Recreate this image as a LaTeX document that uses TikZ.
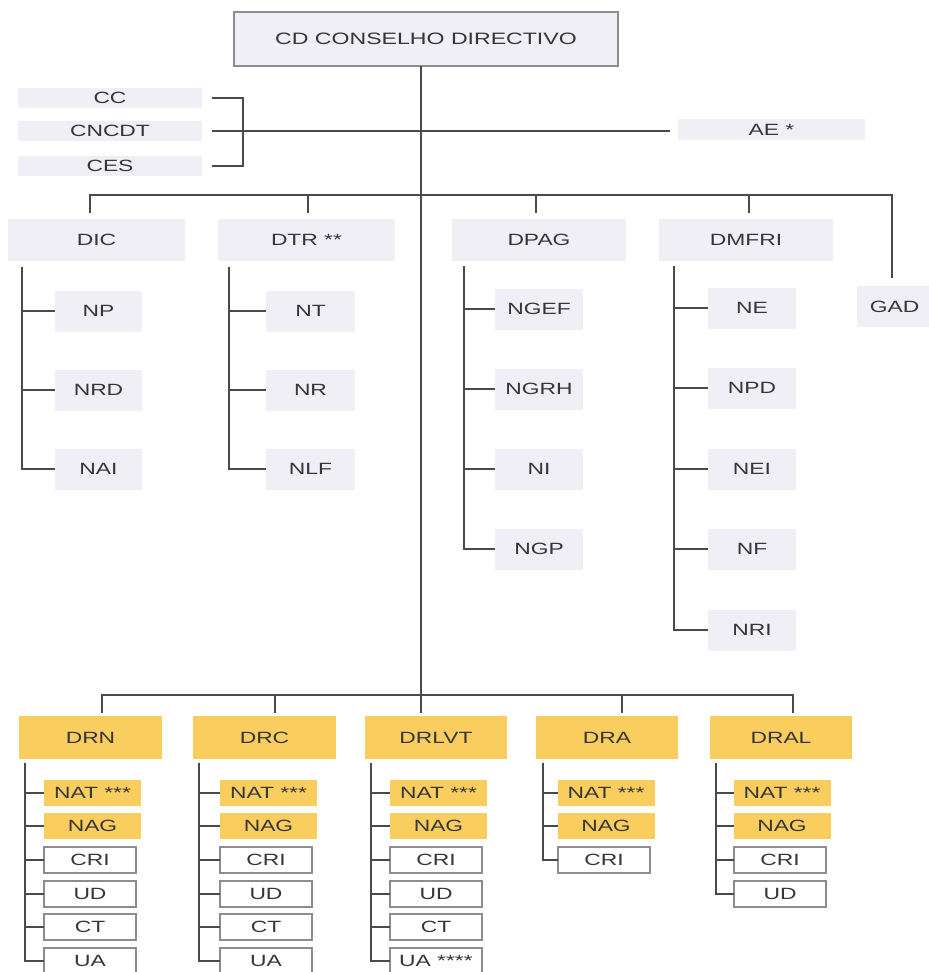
\documentclass[tikz,border=0pt]{standalone}
\usepackage{fontspec}
\setmainfont[FakeStretch=1.4]{Liberation Sans}
\definecolor{gfill}{HTML}{EFEFF5}
\definecolor{yfill}{HTML}{F9CE5F}
\definecolor{lcol}{HTML}{4A4A4A}
\definecolor{obord}{HTML}{8C8C94}
\definecolor{txt}{HTML}{363636}
\begin{document}
\begin{tikzpicture}[x=1pt,y=-1pt,
  base/.style={inner sep=0pt, outer sep=0pt, text=txt, font=\fontsize{16.3}{19}\selectfont},
  gbox/.style={base, fill=gfill, minimum height=41pt},
  cdbox/.style={base, fill=gfill, draw=obord, line width=1.2pt, font=\fontsize{16.5}{19}\selectfont},
  ybox/.style={base, fill=yfill},
  obox/.style={base, fill=white, draw=obord, line width=1.3pt, minimum width=92pt, minimum height=26pt},
  conn/.style={draw=lcol, line width=1.6pt}]
\useasboundingbox (0,0) rectangle (929,972);
\clip (0,0) rectangle (929,972);
\fill[white] (0,0) rectangle (929,972);

% top
\node[cdbox, minimum width=384pt, minimum height=54pt] (cd) at (426,39) {CD CONSELHO DIRECTIVO};
\node[gbox, minimum width=184pt, minimum height=20pt] (cc) at (110,98) {CC};
\node[gbox, minimum width=184pt, minimum height=20pt] (cncdt) at (110,131) {CNCDT};
\node[gbox, minimum width=184pt, minimum height=20pt] (ces) at (110,166) {CES};
\node[gbox, minimum width=187pt, minimum height=21pt] (ae) at (771.5,129.5) {AE *};

\coordinate (tk) at (421,695);
\draw[conn] (tk |- cd.south) -- (tk);
\draw[conn] ([xshift=10pt]cc.east) -| ([xshift=41pt]ces.east) -- ([xshift=10pt]ces.east);
\draw[conn] ([xshift=10pt]cncdt.east) -- ([xshift=-8pt]ae.west |- cncdt.east);

% directorates
\node[gbox, minimum width=177pt, minimum height=42pt] (dic) at (96.5,240) {DIC};
\node[gbox, minimum width=177pt, minimum height=42pt] (dtr) at (306.5,240) {DTR **};
\node[gbox, minimum width=174pt, minimum height=42pt] (dpag) at (539,240) {DPAG};
\node[gbox, minimum width=174pt, minimum height=42pt] (dmfri) at (746,240) {DMFRI};
\node[gbox, minimum width=75pt, minimum height=41pt] (gad) at (894.5,306.5) {GAD};

\coordinate (t1) at (90,195);
\coordinate (t2) at (308,195);
\coordinate (t3) at (536,195);
\coordinate (t4) at (749,195);
\coordinate (t5) at (892,195);
\draw[conn] ([yshift=6pt]t1 |- dic.north) -- (t1) -- (t5) -- ([yshift=8pt]t5 |- gad.north);
\draw[conn] (t2) -- ([yshift=6pt]t2 |- dtr.north);
\draw[conn] (t3) -- ([yshift=6pt]t3 |- dpag.north);
\draw[conn] (t4) -- ([yshift=6pt]t4 |- dmfri.north);

% DIC children
\node[gbox, minimum width=87pt] (np) at (98.5,311) {NP};
\node[gbox, minimum width=87pt] (nrd) at (98.5,390) {NRD};
\node[gbox, minimum width=87pt] (nai) at (98.5,469) {NAI};
\coordinate (v1) at (22,267);
\draw[conn] (v1) |- (nai.west);
\draw[conn] (v1 |- np.west) -- (np.west);
\draw[conn] (v1 |- nrd.west) -- (nrd.west);

% DTR children
\node[gbox, minimum width=89pt] (nt) at (310.5,311) {NT};
\node[gbox, minimum width=89pt] (nr) at (310.5,390) {NR};
\node[gbox, minimum width=89pt] (nlf) at (310.5,469) {NLF};
\coordinate (v2) at (229,267);
\draw[conn] (v2) |- (nlf.west);
\draw[conn] (v2 |- nt.west) -- (nt.west);
\draw[conn] (v2 |- nr.west) -- (nr.west);

% DPAG children
\node[gbox, minimum width=88pt] (ngef) at (539,309) {NGEF};
\node[gbox, minimum width=88pt] (ngrh) at (539,389) {NGRH};
\node[gbox, minimum width=88pt] (ni) at (539,469) {NI};
\node[gbox, minimum width=88pt] (ngp) at (539,549) {NGP};
\coordinate (v3) at (464,266);
\draw[conn] (v3) |- (ngp.west);
\draw[conn] (v3 |- ngef.west) -- (ngef.west);
\draw[conn] (v3 |- ngrh.west) -- (ngrh.west);
\draw[conn] (v3 |- ni.west) -- (ni.west);

% DMFRI children
\node[gbox, minimum width=88pt] (ne) at (752,308) {NE};
\node[gbox, minimum width=88pt] (npd) at (752,388) {NPD};
\node[gbox, minimum width=88pt] (nei) at (752,469) {NEI};
\node[gbox, minimum width=88pt] (nf) at (752,549) {NF};
\node[gbox, minimum width=88pt] (nri) at (752,630) {NRI};
\coordinate (v4) at (674,266);
\draw[conn] (v4) |- (nri.west);
\draw[conn] (v4 |- ne.west) -- (ne.west);
\draw[conn] (v4 |- npd.west) -- (npd.west);
\draw[conn] (v4 |- nei.west) -- (nei.west);
\draw[conn] (v4 |- nf.west) -- (nf.west);

% regional directorates
\node[ybox, minimum width=143pt, minimum height=43pt] (drn) at (90.5,737.5) {DRN};
\node[ybox, minimum width=143pt, minimum height=43pt] (drc) at (264.5,737.5) {DRC};
\node[ybox, minimum width=142pt, minimum height=43pt] (drlvt) at (436,737.5) {DRLVT};
\node[ybox, minimum width=142pt, minimum height=43pt] (dra) at (607,737.5) {DRA};
\node[ybox, minimum width=142pt, minimum height=43pt] (dral) at (781,737.5) {DRAL};

\coordinate (r1) at (102,695);
\coordinate (r2) at (275,695);
\coordinate (r4) at (622,695);
\coordinate (r5) at (793,695);
\draw[conn] ([yshift=3pt]r1 |- drn.north) -- (r1) -- (r5) -- ([yshift=3pt]r5 |- dral.north);
\draw[conn] (r2) -- ([yshift=3pt]r2 |- drc.north);
\draw[conn] (tk) -- ([yshift=3pt]tk |- drlvt.north);
\draw[conn] (r4) -- ([yshift=3pt]r4 |- dra.north);

% units
\foreach \i/\bx/\cx in {1/92.5/90,2/268.5/266,3/438.5/436,4/606/604,5/782/780}{
  \node[ybox, minimum width=97pt, minimum height=26pt] (nat\i) at (\bx,793) {NAT ***};
  \node[ybox, minimum width=97pt, minimum height=26pt] (nag\i) at (\bx,826) {NAG};
  \node[obox] (cri\i) at (\cx,860) {CRI};
}
\foreach \i/\cx in {1/90,2/266,3/436,5/780}{
  \node[obox] (ud\i) at (\cx,894) {UD};
}
\foreach \i/\cx in {1/90,2/266,3/436}{
  \node[obox] (ct\i) at (\cx,927) {CT};
}
\node[obox] (ua1) at (90,961) {UA};
\node[obox] (ua2) at (266,961) {UA};
\node[obox] (ua3) at (436,961) {UA ****};

\coordinate (w1) at (25,763);
\coordinate (w2) at (199,763);
\coordinate (w3) at (371,763);
\coordinate (w4) at (543,763);
\coordinate (w5) at (716,763);
\foreach \w/\i in {w1/1,w2/2,w3/3}{
  \draw[conn] (\w) |- (ua\i.west);
  \draw[conn] (\w |- nat\i.west) -- (nat\i.west);
  \draw[conn] (\w |- nag\i.west) -- (nag\i.west);
  \draw[conn] (\w |- cri\i.west) -- (cri\i.west);
  \draw[conn] (\w |- ud\i.west) -- (ud\i.west);
  \draw[conn] (\w |- ct\i.west) -- (ct\i.west);
}
\draw[conn] (w4) |- (cri4.west);
\draw[conn] (w4 |- nat4.west) -- (nat4.west);
\draw[conn] (w4 |- nag4.west) -- (nag4.west);
\draw[conn] (w5) |- (ud5.west);
\draw[conn] (w5 |- nat5.west) -- (nat5.west);
\draw[conn] (w5 |- nag5.west) -- (nag5.west);
\draw[conn] (w5 |- cri5.west) -- (cri5.west);
\end{tikzpicture}
\end{document}
